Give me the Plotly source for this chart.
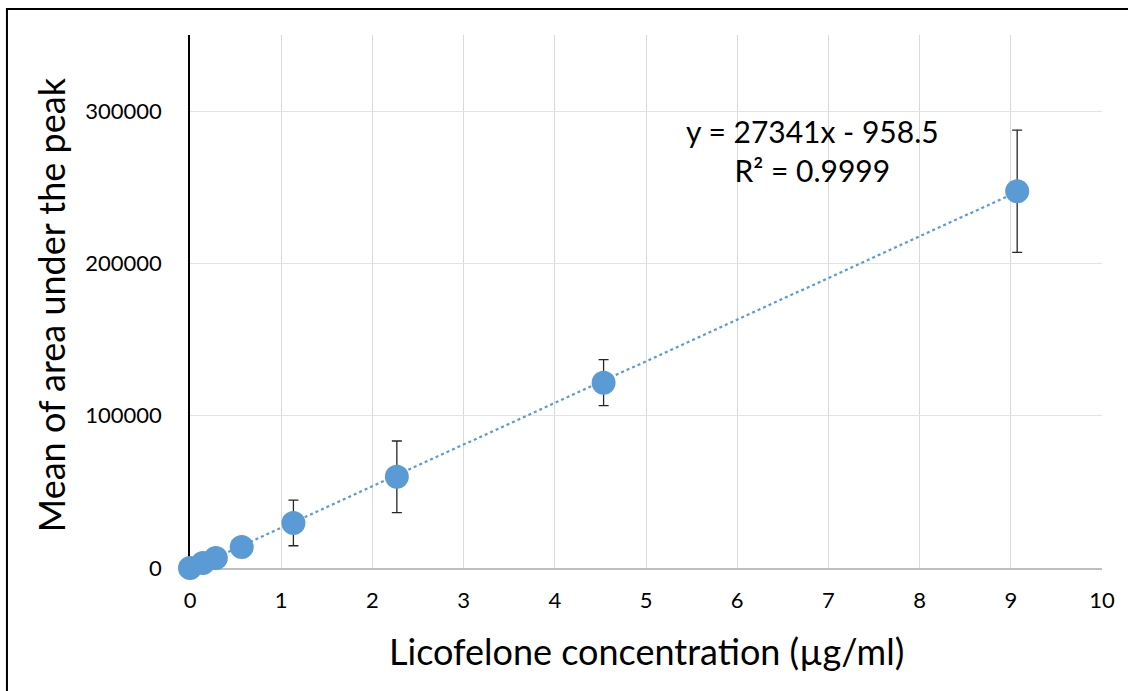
import plotly.graph_objects as go

# Licofelone calibration data (concentration in µg/ml, mean peak area, SD)
concentration = [0.0, 0.142, 0.283, 0.567, 1.134, 2.268, 4.535, 9.07]
mean_area = [0, 3300, 6600, 13800, 29600, 59900, 121700, 247400]
sd_area = [0, 0, 0, 0, 15000, 23500, 15100, 40100]

# Linear regression reported for the calibration curve
slope = 27341
intercept = -958.5
r_squared = 0.9999

x_ticks = [0, 1, 2, 3, 4, 5, 6, 7, 8, 9, 10]
y_ticks = [0, 100000, 200000, 300000]

blue = "#5B9BD5"
font_family = "Lato, Open Sans, sans-serif"

trend_x = [min(concentration), max(concentration)]
trend_y = [slope * v + intercept for v in trend_x]

fig = go.Figure()

fig.add_trace(go.Scatter(
    x=trend_x, y=trend_y, mode="lines",
    line=dict(color=blue, width=2.2, dash="dot"),
    hoverinfo="skip", showlegend=False, cliponaxis=False,
))

fig.add_trace(go.Scatter(
    x=concentration, y=mean_area, mode="markers",
    marker=dict(color=blue, size=24, line=dict(width=0)),
    error_y=dict(type="data", array=sd_area, visible=True,
                 color="#262626", thickness=1.3, width=5),
    showlegend=False, cliponaxis=False,
))

fig.add_annotation(
    x=0.683, y=0.784, xref="paper", yref="paper",
    xanchor="center", yanchor="middle",
    text=f"y = {slope}x - {abs(intercept)}<br>R² = {r_squared}",
    showarrow=False, align="center",
    font=dict(family=font_family, size=30, color="#000000"),
)

fig.add_annotation(
    x=0.5, y=-0.155, xref="paper", yref="paper",
    text="Licofelone concentration (µg/ml)", showarrow=False,
    font=dict(family=font_family, size=36, color="#000000"),
    xanchor="center", yanchor="middle",
)

fig.add_annotation(
    x=-0.153, y=0.494, xref="paper", yref="paper",
    text="Mean of area under the peak", showarrow=False, textangle=-90,
    font=dict(family=font_family, size=36, color="#000000"),
    xanchor="center", yanchor="middle",
)

# outer frame of the chart
fig.add_shape(type="rect", xref="paper", yref="paper",
              x0=-0.2007, x1=1.2, y0=-0.4, y1=1.0488,
              line=dict(color="#000000", width=2), layer="above")

fig.update_layout(
    width=1128, height=691,
    margin=dict(l=190, r=26, t=35, b=123),
    paper_bgcolor="white", plot_bgcolor="white",
    font=dict(family=font_family, size=22, color="#000000"),
    xaxis=dict(
        range=[0, 10], tickvals=x_ticks, showgrid=True, gridcolor="#d9d9d9",
        gridwidth=1, zeroline=False, showline=True, linecolor="#bfbfbf",
        linewidth=1.5, ticks="", ticklabelstandoff=12, layer="below traces",
        tickfont=dict(family=font_family, size=22),
    ),
    yaxis=dict(
        range=[0, 350000], tickvals=y_ticks, tickformat="d",
        showgrid=True, gridcolor="#e3e3e3", gridwidth=1, zeroline=False,
        showline=True, linecolor="#000000", linewidth=1.5, ticks="",
        ticklabelstandoff=22, layer="below traces",
        tickfont=dict(family=font_family, size=22),
    ),
)

fig.write_html("out.html")
